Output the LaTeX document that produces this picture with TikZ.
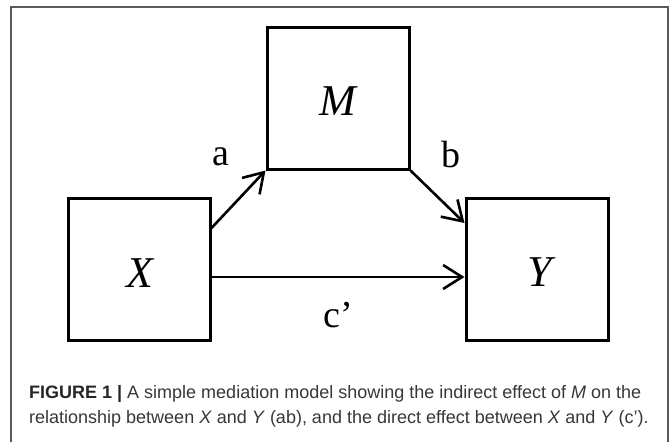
\documentclass[tikz,border=0pt]{standalone}
\usepackage{fontspec}
\setmainfont{Liberation Serif}
\newfontfamily\capfont{Liberation Sans}
\usetikzlibrary{arrows.meta}
\definecolor{framegray}{RGB}{90,90,90}
\definecolor{captext}{RGB}{55,55,55}
\tikzset{
  varbox/.style={draw=black, line width=3pt, minimum width=142pt, minimum height=142pt, inner sep=0pt},
  varname/.style={font=\fontsize{44}{44}\selectfont\itshape, anchor=base, inner sep=0pt},
  pathlabel/.style={font=\fontsize{38}{38}\selectfont, anchor=base, inner sep=0pt},
  effect/.style={line width=2.6pt, -{Straight Barb[length=19pt,width=24pt,line width=2.6pt]}},
  capline/.style={font=\capfont\fontsize{18}{18}\selectfont, text=captext, anchor=base west, inner sep=0pt}
}
\begin{document}
\begin{tikzpicture}[x=1pt,y=-1pt]
\useasboundingbox (0,0) rectangle (670,442);
\fill[white] (0,0) rectangle (670,442);
\draw[framegray, line width=1.6pt] (11,460) -- (11,7) -- (668,7) -- (668,460);
% boxes
\node[varbox] (X) at (139,269) {};
\node[varbox] (M) at (338,98) {};
\node[varbox] (Y) at (537,269) {};
\node[varname] (Xl) at (140,287) {X};
\node[varname] (Ml) at (338,115) {M};
\node[varname] (Yl) at (540,286) {Y};
% connectors
\coordinate (Xa) at ([yshift=41pt]X.east);
\coordinate (Yb) at ([yshift=46pt]Y.west);
\coordinate (Xc) at ([yshift=-8pt]X.east);
\coordinate (Yc) at ([yshift=-8pt]Y.west);
\draw[effect] (Xa) -- (M.south west);
\draw[effect] (M.south east) -- (Yb);
\draw[effect] (Xc) -- (Yc);
% labels
\node[pathlabel] (la) at (221,165) {a};
\node[pathlabel] (lb) at (451,167) {b};
\node[pathlabel] (lc) at (338,327) {c’};
% caption
\node[capline] (cap1) at (29,398) {\textbf{\color{black!85}FIGURE 1 |} A simple mediation model showing the indirect effect of \textit{M} on the};
\node[capline] (cap2) at (29,423) {relationship between \textit{X} and \textit{Y} (ab), and the direct effect between \textit{X} and \textit{Y} (c’).};
\end{tikzpicture}
\end{document}
